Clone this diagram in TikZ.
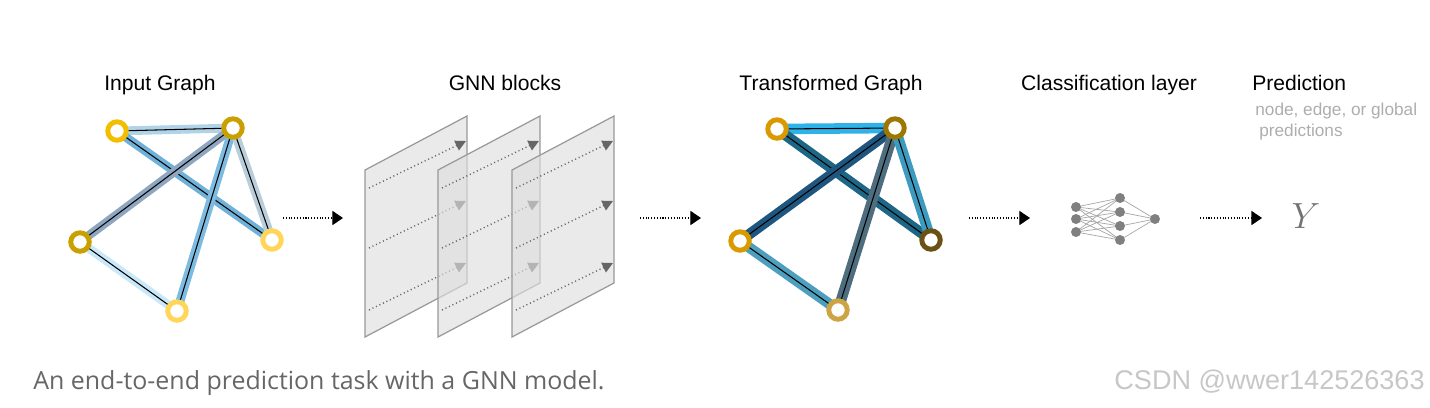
\documentclass[tikz,border=0pt]{standalone}
\usepackage{fontspec}
\setmainfont{Liberation Sans}
\newfontfamily\captionfont{Open Sans}
\usetikzlibrary{arrows.meta,backgrounds}
\definecolor{ngoldA}{HTML}{F4BE00}
\definecolor{ngoldB}{HTML}{C9A000}
\definecolor{nlight}{HTML}{FFD55A}
\definecolor{tgoldA}{HTML}{D89A00}
\definecolor{tgoldB}{HTML}{9C7800}
\definecolor{tbrown}{HTML}{6B5113}
\definecolor{tsand}{HTML}{CDA444}
\definecolor{ieAB}{HTML}{B0D3E8}
\definecolor{ieAD}{HTML}{6FB1D8}
\definecolor{ieBC}{HTML}{8EA6BF}
\definecolor{ieBE}{HTML}{7DBBE0}
\definecolor{ieBD}{HTML}{B9CEDA}
\definecolor{ieCE}{HTML}{C9E8F8}
\definecolor{teAB}{HTML}{2EB2E8}
\definecolor{teAD}{HTML}{1D6685}
\definecolor{teBC}{HTML}{1F5680}
\definecolor{teBE}{HTML}{4E6E80}
\definecolor{teBD}{HTML}{3E9BC0}
\definecolor{teCE}{HTML}{4D9FBF}
\colorlet{panelfill}{black!13}
\colorlet{notegray}{black!32}
\tikzset{
  title/.style={anchor=base,font=\fontsize{12}{14}\selectfont,inner sep=0pt},
  note/.style={anchor=base west,font=\fontsize{9.8}{12}\selectfont,text=notegray,inner sep=0pt},
  gnode/.style={circle,draw=#1,line width=2.8pt,fill=white,minimum size=0.37cm,inner sep=0pt},
  gedge/.style={draw=black,line width=0.6pt,preaction={draw=#1,line width=5pt}},
  tedge/.style={draw=black,line width=0.6pt,preaction={draw=#1,line width=6pt}},
  panel/.style={fill=panelfill,fill opacity=0.65,draw=black!40,line width=0.7pt},
  flow/.style={draw=black!60,dash pattern=on 0.6pt off 1.6pt,line width=0.8pt,-{Triangle[length=6pt,width=6pt]}},
  link/.style={draw=black,densely dotted,line width=0.6pt,-{Triangle[length=6pt,width=8pt]}},
  neuron/.style={circle,fill=black!50,minimum size=0.2cm,inner sep=0pt},
}

\begin{document}
\begin{tikzpicture}[x=0.02cm,y=-0.02cm]
\useasboundingbox (0,0) rectangle (1430,407);

\node[title] (t-input) at (160,90) {Input Graph};
\node[title] (t-gnn) at (505,90) {GNN blocks};
\node[title] (t-trans) at (831,90) {Transformed Graph};
\node[title] (t-class) at (1109,90) {Classification layer};
\node[title,anchor=base west] (t-pred) at (1252,90) {Prediction};
\node[note] (t-pred-a) at (1255,115) {node, edge, or global};
\node[note] (t-pred-b) at (1259,136) {predictions};

\node[gnode=ngoldA] (in-a) at (117,131) {};
\node[gnode=ngoldB] (in-b) at (233,128) {};
\node[gnode=ngoldB] (in-c) at (80,242) {};
\node[gnode=nlight] (in-d) at (272,240) {};
\node[gnode=nlight] (in-e) at (177,311) {};
\begin{scope}[on background layer]
\draw[gedge=ieAB] (in-a.center) -- (in-b.center);
\draw[gedge=ieAD] (in-a.center) -- (in-d.center);
\draw[gedge=ieBC] (in-b.center) -- (in-c.center);
\draw[gedge=ieBE] (in-b.center) -- (in-e.center);
\draw[gedge=ieBD] (in-b.center) -- (in-d.center);
\draw[gedge=ieCE] (in-c.center) -- (in-e.center);
\end{scope}

\foreach \x in {365,438,512} {
  \filldraw[panel] (\x,170) -- ++(102,-54) -- ++(0,167) -- ++(-102,54) -- cycle;
  \foreach \y in {188,248,310}
    \draw[flow] (\x+4,\y) -- ++(97,-47);
}

\node[gnode=tgoldA] (tr-a) at (777,129) {};
\node[gnode=tgoldB] (tr-b) at (895,128) {};
\node[gnode=tgoldA] (tr-c) at (740,241) {};
\node[gnode=tbrown] (tr-d) at (931,240) {};
\node[gnode=tsand] (tr-e) at (838,310) {};
\begin{scope}[on background layer]
\draw[tedge=teAB] (tr-a.center) -- (tr-b.center);
\draw[tedge=teAD] (tr-a.center) -- (tr-d.center);
\draw[tedge=teBC] (tr-b.center) -- (tr-c.center);
\draw[tedge=teBE] (tr-b.center) -- (tr-e.center);
\draw[tedge=teBD] (tr-b.center) -- (tr-d.center);
\draw[tedge=teCE] (tr-c.center) -- (tr-e.center);
\end{scope}

\node[neuron] (nn-i1) at (1076,207) {};
\node[neuron] (nn-i2) at (1076,219) {};
\node[neuron] (nn-i3) at (1076,232) {};
\node[neuron] (nn-h1) at (1120,198) {};
\node[neuron] (nn-h2) at (1120,212) {};
\node[neuron] (nn-h3) at (1120,226) {};
\node[neuron] (nn-h4) at (1120,240) {};
\node[neuron] (nn-o) at (1155,219) {};
\begin{scope}[on background layer]
\foreach \i in {1,2,3}
  \foreach \h in {1,2,3,4}
    \draw[black!35,line width=0.4pt] (nn-i\i.center) -- (nn-h\h.center);
\foreach \h in {1,2,3,4}
  \draw[black!35,line width=0.4pt] (nn-h\h.center) -- (nn-o.center);
\end{scope}

\node[text=black!55,font=\fontsize{21}{24}\selectfont,inner sep=0pt] (out-y) at (1306,216) {$Y$};

\coordinate (l1-s) at (283,218);
\coordinate (l1-e) at (343,218);
\coordinate (l2-s) at (640,218);
\coordinate (l2-e) at (701,218);
\coordinate (l3-s) at (969,218);
\coordinate (l3-e) at (1030,218);
\coordinate (l4-s) at (1200,218);
\coordinate (l4-e) at (1262,218);
\draw[link] (l1-s) -- (l1-e);
\draw[link] (l2-s) -- (l2-e);
\draw[link] (l3-s) -- (l3-e);
\draw[link] (l4-s) -- (l4-e);

\node[anchor=base west,inner sep=0pt,text=black!60,font=\captionfont\fontsize{14.2}{17}\selectfont] (caption) at (33,389) {An end-to-end prediction task with a GNN model.};
\node[anchor=base east,inner sep=0pt,text=black!22,font=\fontsize{15.4}{18}\selectfont] (mark) at (1425,389) {CSDN @wwer142526363};
\end{tikzpicture}
\end{document}
